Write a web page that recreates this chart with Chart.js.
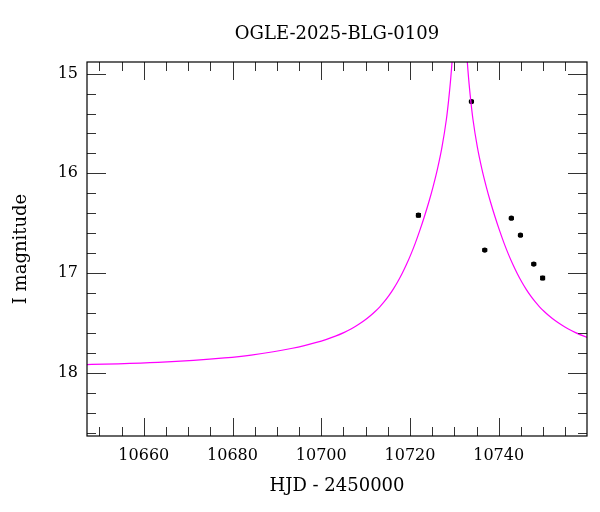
<!DOCTYPE html>
<html>
<head>
<meta charset="utf-8">
<script src="https://cdn.jsdelivr.net/npm/chart.js@4/dist/chart.umd.min.js"></script>
<style>
  html, body { margin: 0; padding: 0; background: #fff; }
  #wrap { width: 600px; height: 512px; }
</style>
</head>
<body>
<div id="wrap"><canvas id="lc" width="600" height="512"></canvas></div>
<script>
// observed points (HJD - 2450000, I mag, error)
var obsHjd = [10721.9, 10733.85, 10736.85, 10742.85, 10744.9, 10747.9, 10749.9];
var obsMag = [16.42, 15.28, 16.77, 16.45, 16.62, 16.91, 17.05];
var obsErr = [0.015, 0.01, 0.01, 0.01, 0.01, 0.01, 0.015];

// model curve
var modelHjd = [10645.2, 10654.2, 10663.2, 10671.2, 10678.2, 10684.2, 10689.2, 10693.2, 10696.2, 10698.7,
                10701.2, 10703.2, 10705.2, 10706.7, 10708.2, 10709.7, 10711.2, 10712.2, 10713.2, 10714.2,
                10715.2, 10716.2, 10717.2, 10718.2, 10719.2, 10720.2, 10721.2, 10722.2, 10723.2, 10724.2,
                10725.2, 10726.2, 10727.2, 10728.2, 10728.7, 10729.2, 10729.7, 10730.2, 10730.7,
                10731.7, 10732.2, 10732.7, 10733.2, 10733.7, 10734.2, 10735.2, 10736.2, 10737.2, 10738.2,
                10739.2, 10740.2, 10741.2, 10742.2, 10743.2, 10744.2, 10745.2, 10746.2, 10747.2, 10748.2,
                10749.2, 10750.2, 10751.2, 10752.7, 10754.2, 10755.7, 10757.2, 10759.2, 10761.2];
var modelMag = [17.92, 17.911, 17.897, 17.877, 17.852, 17.823, 17.79, 17.757, 17.728, 17.699,
                17.665, 17.633, 17.595, 17.561, 17.522, 17.477, 17.424, 17.384, 17.339, 17.288,
                17.23, 17.164, 17.09, 17.007, 16.915, 16.813, 16.70, 16.575, 16.44, 16.295,
                16.135, 15.955, 15.74, 15.46, 15.27, 15.04, 14.74, 14.35, 13.6,
                13.6, 14.35, 14.74, 15.04, 15.27, 15.46, 15.74, 15.955, 16.135, 16.295,
                16.44, 16.575, 16.70, 16.813, 16.915, 17.007, 17.09, 17.164, 17.23, 17.288,
                17.339, 17.384, 17.424, 17.477, 17.522, 17.561, 17.595, 17.633, 17.665];

// axes
var xMin = 10647.2, xMax = 10759.9;
var yMin = 14.883, yMax = 18.635;
var xMajor = [10660, 10680, 10700, 10720, 10740];
var yMajor = [15, 16, 17, 18];
var xMinorStep = 5, yMinorStep = 0.2;

var obsPts = obsHjd.map(function(t, i){ return {x: t, y: obsMag[i]}; });
var modelPts = modelHjd.map(function(t, i){ return {x: t, y: modelMag[i]}; });

// frame with inward ticks on all four sides, plus error bars
var framePlugin = {
  id: 'frame',
  beforeDatasetsDraw: function(chart){
    var ctx = chart.ctx, xs = chart.scales.x, ys = chart.scales.y;
    ctx.save();
    ctx.strokeStyle = '#000';
    ctx.lineWidth = 1.5;
    for (var i = 0; i < obsHjd.length; i++) {
      var px = xs.getPixelForValue(obsHjd[i]);
      var y1 = ys.getPixelForValue(obsMag[i] - obsErr[i]);
      var y2 = ys.getPixelForValue(obsMag[i] + obsErr[i]);
      ctx.beginPath();
      ctx.moveTo(px, y1); ctx.lineTo(px, y2);
      ctx.moveTo(px - 2.5, y1); ctx.lineTo(px + 2.5, y1);
      ctx.moveTo(px - 2.5, y2); ctx.lineTo(px + 2.5, y2);
      ctx.stroke();
    }
    ctx.restore();
  },
  afterDatasetsDraw: function(chart){
    var ctx = chart.ctx, a = chart.chartArea;
    var xs = chart.scales.x, ys = chart.scales.y;
    ctx.save();
    ctx.strokeStyle = '#333';
    ctx.lineWidth = 1;
    var v, p, len;
    for (v = Math.ceil(xMin / xMinorStep) * xMinorStep; v <= xMax; v += xMinorStep) {
      p = Math.round(xs.getPixelForValue(v)) + 0.5;
      len = (v % 20 === 0) ? 18 : 9;
      ctx.beginPath();
      ctx.moveTo(p, a.bottom); ctx.lineTo(p, a.bottom - len);
      ctx.moveTo(p, a.top); ctx.lineTo(p, a.top + len);
      ctx.stroke();
    }
    for (var k = Math.ceil(yMin / yMinorStep); k * yMinorStep <= yMax; k++) {
      v = k * yMinorStep;
      p = Math.round(ys.getPixelForValue(v)) + 0.5;
      len = (k % 5 === 0) ? 19 : 9;
      ctx.beginPath();
      ctx.moveTo(a.left, p); ctx.lineTo(a.left + len, p);
      ctx.moveTo(a.right, p); ctx.lineTo(a.right - len, p);
      ctx.stroke();
    }
    ctx.strokeStyle = '#000';
    ctx.lineWidth = 1.2;
    ctx.strokeRect(a.left, a.top, a.right - a.left, a.bottom - a.top);
    ctx.restore();
  }
};

Chart.defaults.font.family = "'DejaVu Serif', serif";
Chart.defaults.color = '#000';

var noGrid = { display: false, drawTicks: false };

var myChart = new Chart(document.getElementById('lc').getContext('2d'), {
  type: 'scatter',
  data: {
    datasets: [
      {
        type: 'line',
        data: modelPts,
        borderColor: '#ff00ff',
        borderWidth: 1.2,
        pointRadius: 0,
        fill: false,
        cubicInterpolationMode: 'monotone',
        clip: 0
      },
      {
        data: obsPts,
        backgroundColor: '#000',
        borderColor: '#000',
        pointRadius: 2.6,
        borderWidth: 0
      }
    ]
  },
  options: {
    responsive: false,
    animation: false,
    layout: { padding: { right: 13, top: 0, bottom: 0, left: 0 } },
    plugins: {
      legend: { display: false },
      tooltip: { enabled: false }
    },
    scales: {
      x: {
        type: 'linear',
        position: 'bottom',
        min: xMin,
        max: xMax,
        grid: noGrid,
        border: { display: false },
        afterBuildTicks: function(s){ s.ticks = xMajor.map(function(v){ return {value: v}; }); },
        afterFit: function(s){ s.height = 76; s.paddingLeft = 0; s.paddingRight = 0; },
        ticks: {
          font: { size: 16 },
          padding: 10,
          maxRotation: 0,
          callback: function(v){ return String(v); }
        },
        title: {
          display: true,
          text: 'HJD - 2450000',
          font: { size: 18 },
          padding: { top: 4, bottom: 15 }
        }
      },
      x2: {
        type: 'linear',
        position: 'top',
        min: xMin,
        max: xMax,
        grid: noGrid,
        border: { display: false },
        ticks: { display: false },
        afterFit: function(s){ s.height = 62; s.paddingLeft = 0; s.paddingRight = 0; },
        title: {
          display: true,
          text: 'OGLE-2025-BLG-0109',
          font: { size: 18 },
          padding: { top: 24, bottom: 0 }
        }
      },
      y: {
        type: 'linear',
        reverse: true,
        min: yMin,
        max: yMax,
        grid: noGrid,
        border: { display: false },
        afterBuildTicks: function(s){ s.ticks = yMajor.map(function(v){ return {value: v}; }); },
        afterFit: function(s){ s.width = 87; s.paddingTop = 0; s.paddingBottom = 0; },
        ticks: {
          font: { size: 16 },
          padding: 9,
          callback: function(v){ return String(v); }
        },
        title: {
          display: true,
          text: 'I magnitude',
          font: { size: 18 },
          padding: { top: 11, bottom: 0 }
        }
      }
    }
  },
  plugins: [framePlugin]
});
</script>
</body>
</html>
